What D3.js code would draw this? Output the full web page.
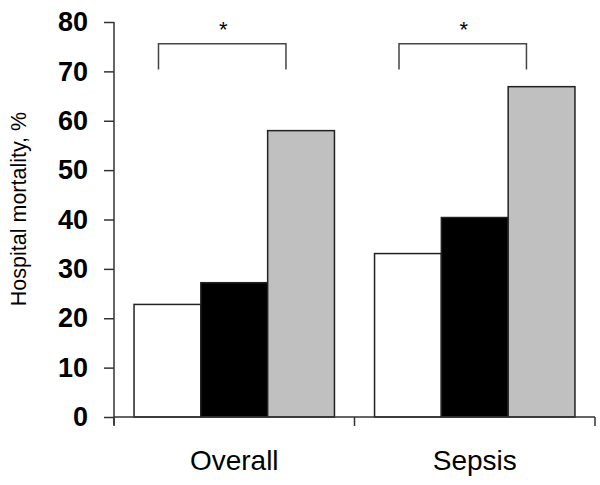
<!DOCTYPE html>
<html><head><meta charset="utf-8">
<script src="https://cdn.jsdelivr.net/npm/d3@7"></script>
<style>body{margin:0;background:#fff}svg{display:block}</style>
</head><body>
<svg id="c" width="600" height="485"></svg>
<script>
const categories = ["Overall", "Sepsis"];
const groups = ["g1", "g2", "g3"];
const overallValues = [22.8, 27.2, 58.0];
const sepsisValues = [33.1, 40.4, 66.9];
const seriesValues = [overallValues, sepsisValues];
const yTicks = [0, 10, 20, 30, 40, 50, 60, 70, 80];
const groupColors = ["#ffffff", "#000000", "#c0c0c0"];
const yLabel = "Hospital mortality, %";
const sigMark = "*";

const svg = d3.select("#c");
const mLeft = 114, mRight = 595, mTop = 22, mBottom = 417;
const x = d3.scaleBand().domain(categories).range([mLeft, mRight]).paddingInner(0).paddingOuter(0);
const xi = d3.scaleBand().domain(groups).range([0, x.bandwidth()]).paddingOuter(0.3).paddingInner(0);
const y = d3.scaleLinear().domain([0, 80]).range([mBottom, mTop]);

// bars
categories.forEach((c, ci) => {
  const g = svg.append("g").attr("transform", `translate(${x(c)},0)`);
  g.selectAll("rect").data(seriesValues[ci]).join("rect")
    .attr("x", (d, i) => xi(groups[i]))
    .attr("y", d => y(d))
    .attr("width", xi.bandwidth())
    .attr("height", d => y(0) - y(d))
    .attr("fill", (d, i) => groupColors[i])
    .attr("stroke", "#222").attr("stroke-width", 1.5);
  // significance bracket
  const bw = x.bandwidth();
  const bx0 = bw * 0.185, bx1 = bw * 0.715;
  g.append("path")
    .attr("d", `M${bx0},${y(70.4)}V${y(75.6)}H${bx1}V${y(70.4)}`)
    .attr("fill", "none").attr("stroke", "#444").attr("stroke-width", 1.5);
  g.append("text").attr("x", (bx0 + bx1) / 2 + 1).attr("y", y(77.0))
    .attr("text-anchor", "middle")
    .attr("font-family", "Liberation Sans, Arial, sans-serif")
    .attr("font-size", 22).attr("fill", "#000").text(sigMark);
});

// y axis
const yAxis = svg.append("g").attr("transform", `translate(${mLeft},0)`)
  .call(d3.axisLeft(y).tickValues(yTicks).tickSize(10).tickPadding(16).tickFormat(d3.format("d")));
yAxis.select(".domain").attr("stroke", "#333").attr("stroke-width", 1.5).attr("d", `M0,${mTop}V${mBottom + 8}`);
yAxis.selectAll(".tick line").attr("stroke", "#333").attr("stroke-width", 1.5);
yAxis.selectAll(".tick text")
  .attr("font-family", "Liberation Sans, Arial, sans-serif")
  .attr("font-size", 27).attr("font-weight", "bold").attr("fill", "#000");

// x axis
const xAxis = svg.append("g").attr("transform", `translate(0,${mBottom})`);
xAxis.append("path").attr("d", `M${mLeft},0H${mRight}`).attr("stroke", "#333").attr("stroke-width", 1.5);
const bounds = [mLeft, ...categories.map(c => x(c) + x.bandwidth())];
xAxis.selectAll("line.tk").data(bounds).join("line").attr("class", "tk")
  .attr("x1", d => d).attr("x2", d => d).attr("y1", 0).attr("y2", 9)
  .attr("stroke", "#333").attr("stroke-width", 1.5);
xAxis.selectAll("text.cl").data(categories).join("text").attr("class", "cl")
  .attr("x", d => x(d) + x.bandwidth() / 2).attr("y", 53)
  .attr("text-anchor", "middle")
  .attr("font-family", "Liberation Sans, Arial, sans-serif")
  .attr("font-size", 28).attr("fill", "#000").text(d => d);

// y label
svg.append("text").attr("transform", `translate(26,209) rotate(-90)`)
  .attr("text-anchor", "middle")
  .attr("font-family", "Liberation Sans, Arial, sans-serif")
  .attr("font-size", 21.5).attr("fill", "#000").text(yLabel);
</script>
</body></html>
